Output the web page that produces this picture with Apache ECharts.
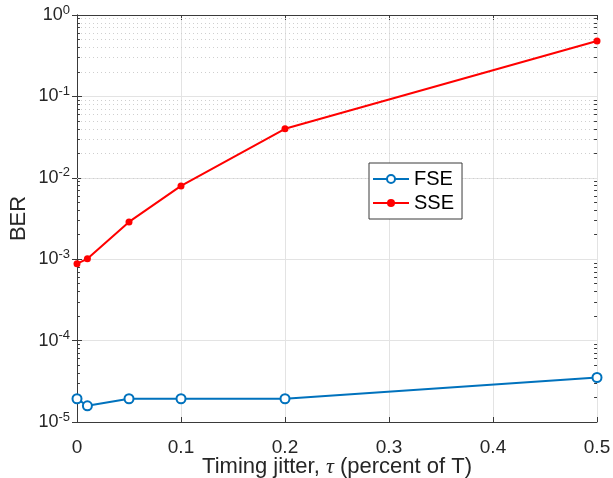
<!DOCTYPE html>
<html><head><meta charset="utf-8">
<script src="https://cdn.jsdelivr.net/npm/echarts@6/dist/echarts.min.js"></script>
<style>html,body{margin:0;padding:0;background:#fff}#c{width:613px;height:478px}</style>
</head><body><div id="c"></div>
<script>
// ---- data ----
const xValues = [0, 0.01, 0.05, 0.1, 0.2, 0.5];
const fseBER = [1.93e-5, 1.58e-5, 1.93e-5, 1.93e-5, 1.93e-5, 3.52e-5];
const sseBER = [8.8e-4, 1.01e-3, 2.87e-3, 7.95e-3, 0.040, 0.48];
const xTickLabels = ['0', '0.1', '0.2', '0.3', '0.4', '0.5'];
const yExponents = [-5, -4, -3, -2, -1, 0];
const seriesNames = ['FSE', 'SSE'];
const xTitle = 'Timing jitter, ';
const yTitle = 'BER';

// ---- helpers ----
const AX = '#3a3a3a';
const FONT = 'Liberation Sans, Arial, sans-serif';
const minorVals = [];
for (let i = 0; i < yExponents.length - 1; i++) {
  for (let m = 2; m <= 9; m++) minorVals.push(m * Math.pow(10, yExponents[i]));
}
const xMin = 0, xMax = 0.5;
const minorLen = 0.0028;

const minorGrid = minorVals.map(v => ({ yAxis: v }));
const minorTicksL = minorVals.map(v => [{ coord: [xMin, v] }, { coord: [xMin + minorLen, v] }]);
const minorTicksR = minorVals.map(v => [{ coord: [xMax - minorLen, v] }, { coord: [xMax, v] }]);

function yFmt(val) {
  const e = Math.round(Math.log10(val));
  return '{b|10}{s|' + e + '}';
}
function xFmt(val) {
  const i = Math.round(val * 10);
  return xTickLabels[i] !== undefined ? xTickLabels[i] : '';
}

const chart = echarts.init(document.getElementById('c'), null, { renderer: 'canvas' });
const pts = (ys) => xValues.map((x, i) => [x, ys[i]]);

chart.setOption({
  animation: false,
  backgroundColor: '#fff',
  textStyle: { fontFamily: FONT },
  grid: { left: 77, top: 15, width: 520, height: 407, containLabel: false, outerBoundsMode: 'none' },
  legend: {
    data: seriesNames,
    orient: 'vertical',
    left: 369, top: 163, z: 20,
    backgroundColor: '#fff',
    borderColor: AX, borderWidth: 1, borderRadius: 0,
    padding: [6, 8, 6, 3],
    itemWidth: 36, itemHeight: 10, itemGap: 4,
    textStyle: { fontSize: 20, lineHeight: 20, color: '#000', fontFamily: FONT }
  },
  xAxis: [{
    type: 'value', min: xMin, max: xMax, interval: 0.1,
    name: xTitle + '{i|τ} (percent of T)', nameLocation: 'middle', nameGap: 34, nameMoveOverlap: false,
    nameTextStyle: { fontSize: 22, color: '#262626', rich: { i: { fontSize: 22, fontStyle: 'italic', fontFamily: 'Liberation Serif, serif', color: '#262626' } } },
    axisLine: { show: true, lineStyle: { color: AX, width: 1 } },
    axisTick: { show: true, inside: true, length: 5, lineStyle: { color: AX } },
    axisLabel: { formatter: xFmt, fontSize: 19, color: '#262626', margin: 16 },
    splitLine: { show: true, lineStyle: { color: '#e3e3e3', width: 1 } }
  }, {
    type: 'value', min: xMin, max: xMax, interval: 0.1, position: 'top',
    axisLine: { show: true, lineStyle: { color: AX, width: 1 } },
    axisTick: { show: true, inside: true, length: 5, lineStyle: { color: AX } },
    axisLabel: { show: false }, splitLine: { show: false }
  }],
  yAxis: [{
    type: 'log', logBase: 10, min: 1e-5, max: 1,
    name: yTitle, nameLocation: 'middle', nameGap: 47, nameRotate: 90, nameMoveOverlap: false,
    nameTextStyle: { fontSize: 22, color: '#262626' },
    axisLine: { show: true, lineStyle: { color: AX, width: 1 } },
    axisTick: { show: true, inside: true, length: 5, lineStyle: { color: AX } },
    axisLabel: {
      formatter: yFmt, margin: 7, color: '#262626',
      rich: {
        b: { fontSize: 18, color: '#262626', fontFamily: FONT },
        s: { fontSize: 13, color: '#262626', fontFamily: FONT, verticalAlign: 'bottom', padding: [0, 0, 10, 0] }
      }
    },
    splitLine: { show: true, lineStyle: { color: '#e3e3e3', width: 1 } }
  }, {
    type: 'log', logBase: 10, min: 1e-5, max: 1, position: 'right',
    axisLine: { show: true, lineStyle: { color: AX, width: 1 } },
    axisTick: { show: true, inside: true, length: 5, lineStyle: { color: AX } },
    axisLabel: { show: false }, splitLine: { show: false }
  }],
  series: [{
    name: '_grid', type: 'line', data: [], silent: true, z: 1,
    markLine: {
      silent: true, symbol: 'none', label: { show: false },
      lineStyle: { color: '#cfcfcf', type: [1, 3], width: 1 },
      data: minorGrid, animation: false
    }
  }, {
    name: '_ticks', type: 'line', data: [], silent: true, z: 3,
    markLine: {
      silent: true, symbol: 'none', label: { show: false },
      lineStyle: { color: AX, type: 'solid', width: 1 },
      data: minorTicksL.concat(minorTicksR), animation: false
    }
  }, {
    name: seriesNames[0], type: 'line', data: pts(fseBER), z: 5,
    symbol: 'emptyCircle', symbolSize: 9,
    lineStyle: { color: '#0072BD', width: 2 },
    itemStyle: { color: '#0072BD', borderWidth: 2 }
  }, {
    name: seriesNames[1], type: 'line', data: pts(sseBER), z: 5,
    symbol: 'circle', symbolSize: 7,
    lineStyle: { color: '#FF0000', width: 2 },
    itemStyle: { color: '#FF0000' }
  }]
});
</script>
</body></html>
